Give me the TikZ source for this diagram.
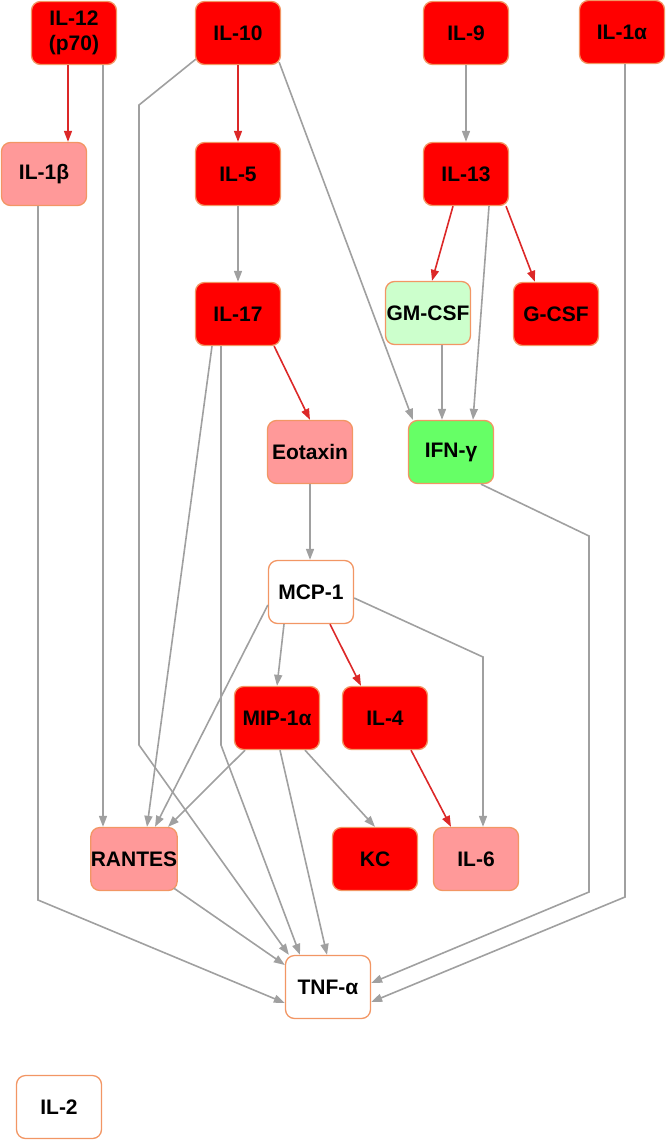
\documentclass[tikz,border=0pt]{standalone}
\usepackage{fontspec}
\setmainfont{Liberation Sans}
\usetikzlibrary{arrows.meta}
\definecolor{boxline}{RGB}{242,150,100}
\definecolor{strongred}{RGB}{255,0,0}
\definecolor{softred}{RGB}{255,153,153}
\definecolor{softgreen}{RGB}{204,255,204}
\definecolor{stronggreen}{RGB}{102,255,102}
\definecolor{linkgray}{RGB}{160,160,160}
\definecolor{linkred}{RGB}{220,40,40}
\tikzset{
	cytokine/.style={draw=boxline, line width=1.3pt, rounded corners=9pt, minimum width=85pt, minimum height=63pt, inner sep=0pt, align=center, font=\fontsize{21}{24.5}\selectfont\bfseries},
	hired/.style={cytokine, fill=strongred},
	lored/.style={cytokine, fill=softred},
	logreen/.style={cytokine, fill=softgreen},
	higreen/.style={cytokine, fill=stronggreen},
	flat/.style={cytokine, fill=white},
	graylink/.style={draw=linkgray, line width=1.6pt, -{Triangle[length=11pt,width=8pt]}},
	redlink/.style={draw=linkred, line width=1.6pt, -{Triangle[length=11pt,width=8pt]}}
}
\begin{document}
\begin{tikzpicture}[x=1pt, y=-1pt]
	\useasboundingbox (0,0) rectangle (666,1140);
	\node[hired] (IL12) at (74,33) {IL-12\\(p70)};
	\node[hired] (IL10) at (238,33) {IL-10};
	\node[hired] (IL9) at (466,33) {IL-9};
	\node[hired] (IL1a) at (622,32) {IL-1α};
	\node[lored] (IL1b) at (44,174) {IL-1β};
	\node[hired] (IL5) at (238,174) {IL-5};
	\node[hired] (IL13) at (466,174) {IL-13};
	\node[hired] (IL17) at (238,314) {IL-17};
	\node[logreen] (GMCSF) at (428,313) {GM-CSF};
	\node[hired] (GCSF) at (556,314) {G-CSF};
	\node[lored] (Eotaxin) at (310,452) {Eotaxin};
	\node[higreen] (IFNg) at (451,452) {IFN-γ};
	\node[flat] (MCP1) at (311,592) {MCP-1};
	\node[hired] (MIP1a) at (277,718) {MIP-1α};
	\node[hired] (IL4) at (385,718) {IL-4};
	\node[lored] (RANTES) at (134,859) {RANTES};
	\node[hired] (KC) at (375,859) {KC};
	\node[lored] (IL6) at (476,859) {IL-6};
	\node[flat] (TNF) at (328,987) {TNF-α};
	\node[flat] (IL2) at (59,1107) {IL-2};
	% straight drops
	\foreach \a/\b in {IL9/IL13, IL5/IL17, Eotaxin/MCP1}{
		\draw[graylink] (\a.south) -- (\a.south |- \b.north);
	}
	\draw[redlink] (IL10.south) -- (IL5.north);
	\draw[redlink] ([xshift=-6pt]IL12.south) -- ([xshift=-6pt]IL12.south |- IL1b.north);
	\draw[graylink] ([xshift=29pt]IL12.south) -- ([xshift=29pt]IL12.south |- RANTES.north);
	\draw[graylink] ([xshift=14pt]GMCSF.south) -- ([xshift=14pt]GMCSF.south |- IFNg.north);
	% IL-13 outputs
	\draw[redlink] ([xshift=-13pt]IL13.south) -- ([xshift=4pt]GMCSF.north);
	\draw[redlink] ([xshift=40pt]IL13.south) -- ([xshift=-21pt]GCSF.north);
	\draw[graylink] ([xshift=23pt]IL13.south) -- ([xshift=22pt]IFNg.north);
	\draw[graylink] ([xshift=-2pt,yshift=3pt]IL10.south east) -- ([xshift=5pt]IFNg.north west);
	% IL-17 outputs
	\draw[redlink] ([xshift=-7pt]IL17.south east) -- (Eotaxin.north);
	\draw[graylink] ([xshift=-26pt]IL17.south) -- ([xshift=13pt]RANTES.north);
	\draw[graylink] ([xshift=-17pt]IL17.south) -- (221,745) -- ([xshift=-28pt]TNF.north);
	% MCP-1 outputs
	\draw[graylink] ([yshift=-13pt]MCP1.west) -- ([xshift=21pt]RANTES.north);
	\draw[graylink] ([xshift=-27pt]MCP1.south) -- (MIP1a.north);
	\draw[redlink] ([xshift=19pt]MCP1.south) -- ([xshift=-24pt]IL4.north);
	\draw[graylink] ([yshift=-6pt]MCP1.east) -- (483,657) -- ([xshift=7pt]IL6.north);
	% MIP-1a outputs
	\draw[graylink] ([xshift=-32pt]MIP1a.south) -- ([xshift=34pt]RANTES.north);
	\draw[graylink] ([xshift=3pt]MIP1a.south) -- ([xshift=-1pt]TNF.north);
	\draw[graylink] ([xshift=28pt]MIP1a.south) -- (KC.north);
	\draw[redlink] ([xshift=26pt]IL4.south) -- ([xshift=-25pt]IL6.north);
	% long runs into TNF-a
	\draw[graylink] ([xshift=1pt,yshift=6pt]IL10.south west) -- (139,105) -- (139,745) -- ([xshift=4pt]TNF.north west);
	\draw[graylink] ([xshift=-6pt]IL1b.south) -- (38,900) -- ([yshift=-16pt]TNF.west);
	\draw[graylink] ([xshift=-4pt,yshift=3pt]RANTES.south east) -- ([yshift=22pt]TNF.west);
	\draw[graylink] ([xshift=30pt]IFNg.south) -- (589,536) -- (589,892) -- ([yshift=4pt]TNF.east);
	\draw[graylink] ([xshift=3pt]IL1a.south) -- (625,897) -- ([yshift=-15pt]TNF.east);
\end{tikzpicture}
\end{document}
